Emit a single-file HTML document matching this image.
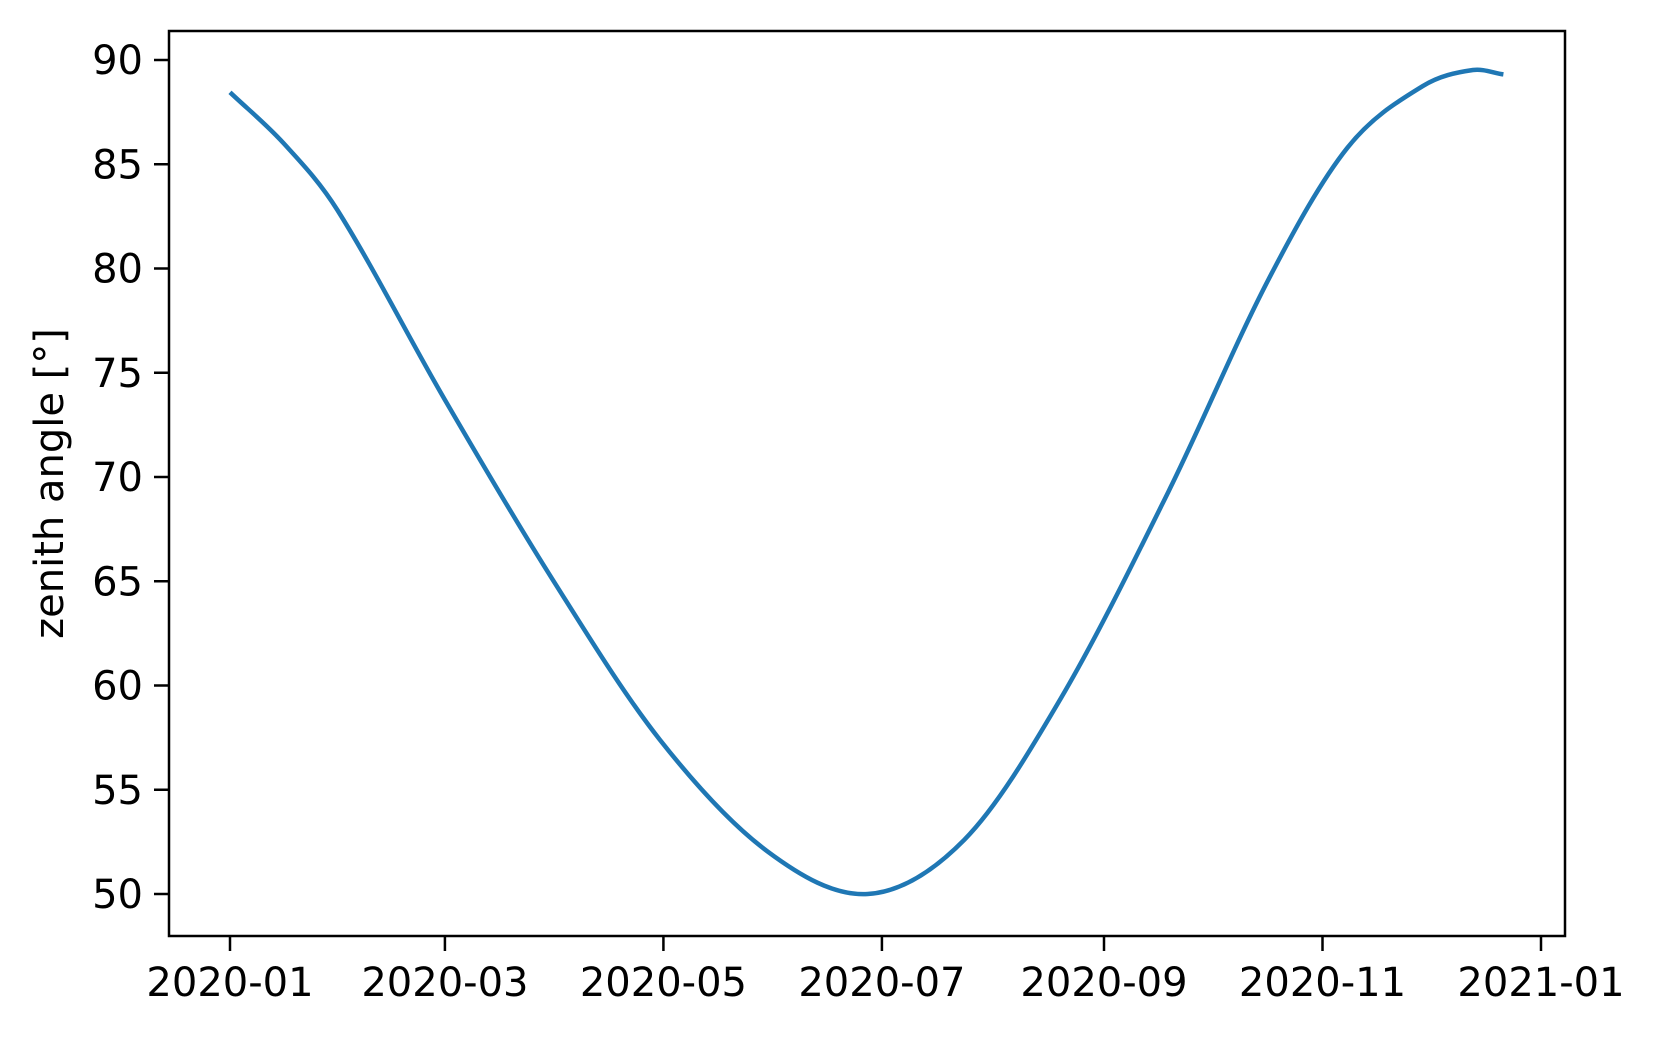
<!DOCTYPE html>
<html><head><meta charset="utf-8"><style>
body{margin:0;background:#fff;}
svg text{font-family:"DejaVu Sans","Liberation Sans",sans-serif;fill:#000;}
</style></head><body>
<svg id="chart" width="1658" height="1035" xmlns="http://www.w3.org/2000/svg">
<rect x="0" y="0" width="1658" height="1035" fill="#fff"/>
<g id="g"></g>
</svg>
<script>
// data: day offset from 2020-01-01 and zenith angle in degrees
const days = [0, 15, 30, 60, 90, 120, 150, 178, 205, 232, 262, 290, 312, 333, 347, 355.5];
const zenith = [88.45, 86.0, 82.8, 73.7, 65.1, 57.4, 52.05, 50.0, 52.6, 59.4, 69.3, 79.5, 85.8, 88.75, 89.52, 89.31];
const yTicks = [50, 55, 60, 65, 70, 75, 80, 85, 90];
const xTickDays = [0, 60, 121, 182, 244, 305, 366];
const xTickLabels = ["2020-01", "2020-03", "2020-05", "2020-07", "2020-09", "2020-11", "2021-01"];

const L=169,T=31,R=1565,B=936;
const x0=230, pxPerDay=(1541-230)/366;
const yScale=v=>60+(90-v)*20.85;
const xScale=d=>x0+d*pxPerDay;
const NS="http://www.w3.org/2000/svg";
const g=document.getElementById('g');
function el(t,a){const e=document.createElementNS(NS,t);for(const k in a)e.setAttribute(k,a[k]);g.appendChild(e);return e;}

const n=days.length;
const slopes=days.map((d,i)=>{
  if(i===0) return (zenith[1]-zenith[0])/(days[1]-days[0]);
  if(i===n-1) return (zenith[n-1]-zenith[n-2])/(days[n-1]-days[n-2]);
  return (zenith[i+1]-zenith[i-1])/(days[i+1]-days[i-1]);
});
let dstr=`M${xScale(days[0])},${yScale(zenith[0])}`;
for(let i=0;i<n-1;i++){
  const h=(days[i+1]-days[i])/3;
  const c1x=xScale(days[i]+h), c1y=yScale(zenith[i]+slopes[i]*h);
  const c2x=xScale(days[i+1]-h), c2y=yScale(zenith[i+1]-slopes[i+1]*h);
  dstr+=` C${c1x},${c1y} ${c2x},${c2y} ${xScale(days[i+1])},${yScale(zenith[i+1])}`;
}
const line=el('path',{d:dstr,fill:'none',stroke:'#1f77b4','stroke-width':4.5,'stroke-linecap':'butt'});



const frame=el('rect',{x:L,y:T,width:R-L,height:B-T,fill:'none',stroke:'#000','stroke-width':2.5});



yTicks.forEach(v=>{
  const y=yScale(v);
  const t=el('line',{x1:L-15,x2:L,y1:y,y2:y,stroke:'#000','stroke-width':2.5});
  
  
  const tx=el('text',{x:L-26,y:y+14,'text-anchor':'end','font-size':40});
  tx.textContent=v;
  
  
});
xTickDays.forEach((d,i)=>{
  const x=xScale(d);
  const t=el('line',{x1:x,x2:x,y1:B,y2:B+15,stroke:'#000','stroke-width':2.5});
  
  
  const tx=el('text',{x:x,y:B+60,'text-anchor':'middle','font-size':40});
  tx.textContent=xTickLabels[i];
  
  
});
const yl=el('text',{x:0,y:0,'text-anchor':'middle','font-size':40,transform:`translate(63,${(T+B)/2}) rotate(-90)`});
yl.textContent='zenith angle [°]';


</script>
</body></html>
